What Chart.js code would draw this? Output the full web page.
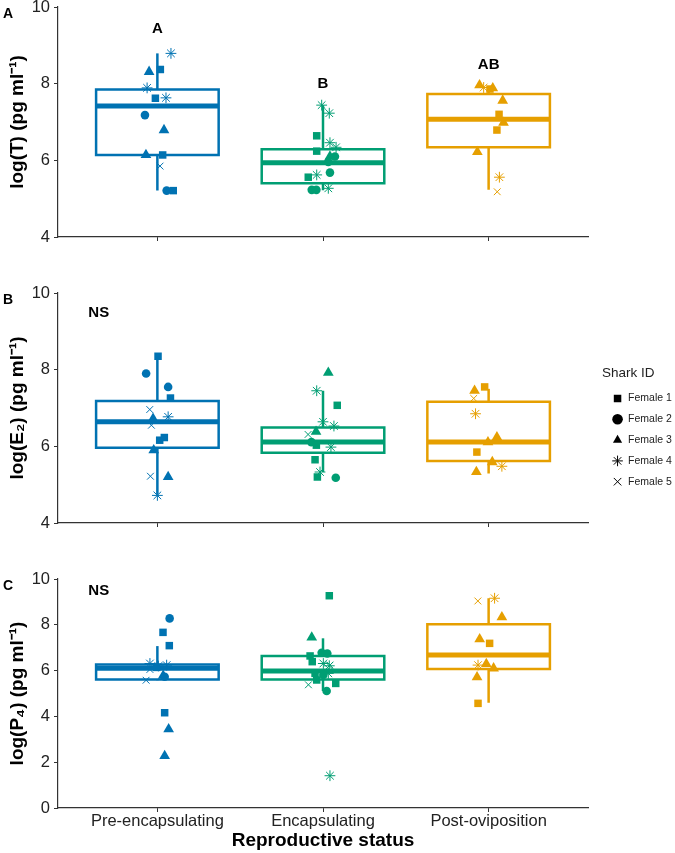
<!DOCTYPE html>
<html>
<head>
<meta charset="utf-8">
<script src="https://cdn.jsdelivr.net/npm/chart.js@4.4.1/dist/chart.umd.min.js"></script>
<style>
  html, body { margin: 0; padding: 0; background: #fff; }
  #wrap { position: relative; width: 675px; height: 853px; overflow: hidden; }
  canvas { position: absolute; left: 0; }
</style>
</head>
<body>
<div id="wrap">
  <canvas id="panelT" width="675" height="245" style="top:0px"></canvas>
  <canvas id="panelE2" width="675" height="285" style="top:286px"></canvas>
  <canvas id="panelP4" width="675" height="281" style="top:572px"></canvas>
</div>
<script>
// categories and groups
const statuses = ['Pre-encapsulating', 'Encapsulating', 'Post-oviposition'];
const sharkIds = ['Female 1', 'Female 2', 'Female 3', 'Female 4', 'Female 5'];

// box summaries per status: [lower whisker, Q1, median, Q3, upper whisker]
const boxT = [[5.21, 6.14, 7.42, 7.85, 8.79], [5.22, 5.40, 5.94, 6.29, 7.44], [5.23, 6.34, 7.07, 7.73, 7.93]];
const boxE2 = [[4.75, 5.96, 6.64, 7.18, 8.35], [5.33, 5.83, 6.11, 6.49, 7.45], [5.29, 5.62, 6.11, 7.16, 7.50]];
const boxP4 = [[5.58, 5.61, 6.10, 6.27, 7.07], [5.11, 5.61, 5.98, 6.64, 7.41], [4.60, 6.07, 6.68, 8.02, 9.16]];

// samples: [status index, shark index, jitter, value]
const ptsT = [
  [0, 0, 0.018, 8.37], [0, 0, -0.012, 7.62], [0, 0, 0.032, 6.14], [0, 0, 0.096, 5.21],
  [0, 1, -0.075, 7.18], [0, 1, 0.056, 5.21],
  [0, 2, -0.05, 8.31], [0, 2, 0.04, 6.79], [0, 2, -0.069, 6.14],
  [0, 3, 0.082, 8.79], [0, 3, -0.062, 7.89], [0, 3, 0.052, 7.63],
  [0, 4, 0.016, 5.85],
  [1, 3, -0.008, 7.44], [1, 3, 0.038, 7.23], [1, 3, 0.042, 6.46], [1, 3, 0.079, 6.34], [1, 3, -0.038, 5.62], [1, 3, 0.032, 5.27],
  [1, 0, -0.038, 6.64], [1, 0, -0.038, 6.24], [1, 0, -0.089, 5.56],
  [1, 1, 0.072, 6.10], [1, 1, 0.032, 5.96], [1, 1, 0.042, 5.68], [1, 1, -0.068, 5.23], [1, 1, -0.04, 5.23],
  [1, 2, 0.042, 6.10],
  [2, 2, -0.055, 7.96], [2, 2, 0.025, 7.88], [2, 2, 0.085, 7.56], [2, 2, 0.09, 6.98], [2, 2, -0.068, 6.22],
  [2, 3, -0.03, 7.90], [2, 3, 0.065, 5.56],
  [2, 0, 0.008, 7.86], [2, 0, 0.063, 7.20], [2, 0, 0.05, 6.79],
  [2, 4, 0.052, 5.18]
];
const ptsE2 = [
  [0, 0, 0.004, 8.35], [0, 0, 0.079, 7.26], [0, 0, 0.014, 6.16], [0, 0, 0.042, 6.23],
  [0, 1, -0.068, 7.90], [0, 1, 0.065, 7.55],
  [0, 2, -0.026, 6.72], [0, 2, -0.022, 5.90], [0, 2, 0.065, 5.20],
  [0, 3, 0.065, 6.77], [0, 3, 0.0, 4.72],
  [0, 4, -0.046, 6.96], [0, 4, -0.036, 6.55], [0, 4, -0.042, 5.22],
  [1, 2, 0.032, 7.92], [1, 2, -0.042, 6.38],
  [1, 3, -0.038, 7.45], [1, 3, 0.0, 6.64], [1, 3, 0.066, 6.53], [1, 3, 0.048, 5.98], [1, 3, -0.018, 5.33],
  [1, 0, 0.086, 7.07], [1, 0, -0.04, 6.03], [1, 0, -0.048, 5.65], [1, 0, -0.034, 5.20],
  [1, 1, -0.07, 6.11], [1, 1, 0.077, 5.18],
  [1, 4, -0.09, 6.31],
  [2, 0, -0.024, 7.55], [2, 0, -0.071, 5.85],
  [2, 2, -0.085, 7.45], [2, 2, 0.05, 6.24], [2, 2, -0.004, 6.11], [2, 2, 0.022, 5.59], [2, 2, -0.074, 5.33],
  [2, 4, -0.09, 7.25],
  [2, 3, -0.079, 6.85], [2, 3, 0.08, 5.48]
];
const ptsP4 = [
  [0, 1, 0.074, 8.28], [0, 1, 0.044, 5.73],
  [0, 0, 0.034, 7.67], [0, 0, 0.072, 7.09], [0, 0, -0.004, 6.14], [0, 0, 0.044, 4.16],
  [0, 3, -0.045, 6.31], [0, 3, 0.006, 6.20], [0, 3, 0.056, 6.24],
  [0, 2, 0.035, 5.78], [0, 2, 0.068, 3.44], [0, 2, 0.044, 2.27],
  [0, 4, -0.068, 5.58], [0, 4, -0.045, 6.05],
  [1, 0, 0.038, 9.27], [1, 0, -0.078, 6.64], [1, 0, -0.065, 6.39], [1, 0, -0.048, 5.88], [1, 0, -0.038, 5.59], [1, 0, 0.077, 5.44],
  [1, 2, -0.068, 7.45],
  [1, 1, -0.008, 6.78], [1, 1, 0.026, 6.75], [1, 1, 0.002, 5.81], [1, 1, 0.022, 5.11],
  [1, 3, 0.002, 6.31], [1, 3, 0.038, 6.21], [1, 3, 0.032, 5.88], [1, 3, 0.042, 1.41],
  [1, 4, -0.088, 5.38], [1, 4, 0.042, 6.24],
  [2, 4, -0.065, 9.04],
  [2, 3, 0.036, 9.16], [2, 3, -0.064, 6.24],
  [2, 2, 0.08, 8.33], [2, 2, -0.054, 7.37], [2, 2, -0.014, 6.29], [2, 2, 0.03, 6.10], [2, 2, -0.07, 5.71],
  [2, 0, 0.006, 7.19], [2, 0, -0.064, 4.57]
];

// significance labels: [text, x value, y value]
const notesT = [['A', 1, 9.43], ['B', 2, 7.99], ['AB', 3, 8.49]];
const notesE2 = [['NS', 0.646, 9.49]];
const notesP4 = [['NS', 0.646, 9.48]];

// styling
const statusColors = ['#0072B2', '#009E73', '#E69F00'];
const sharkShapes = ['rect', 'circle', 'triangle', 'star', 'crossRot'];
const sharkSizes = [5.3, 4.3, 6.2, 5.4, 4.8];
const sharkLines = [0, 0, 0, 1, 1];
const BOX_HALF = 0.37;
const FONT = "'Liberation Sans', Arial, Helvetica, sans-serif";

Chart.defaults.font.family = FONT;
Chart.defaults.color = '#222';

// letters over the groups plus the panel tag
const notesPlugin = {
  id: 'notes',
  afterDatasetsDraw(chart, args, opts) {
    const { ctx, chartArea, scales: { x, y } } = chart;
    ctx.save();
    ctx.fillStyle = '#000';
    ctx.textBaseline = 'middle';
    ctx.textAlign = 'center';
    ctx.font = 'bold 15px ' + FONT;
    opts.notes.forEach(([t, vx, vy]) => ctx.fillText(t, x.getPixelForValue(vx), y.getPixelForValue(vy)));
    ctx.textAlign = 'left';
    ctx.font = 'bold 14px ' + FONT;
    ctx.fillText(opts.tag, 3, chartArea.top + 7.5);
    ctx.restore();
  }
};

function makePanel(canvasId, cfg) {
  const { box, pts, yMin, yLabel, notes, tag, legend, showX, xHeight } = cfg;
  const datasets = [];

  // jittered samples, one dataset per shark
  sharkIds.forEach((name, s) => {
    const mine = pts.filter(p => p[1] === s);
    datasets.push({
      label: name,
      data: mine.map(p => ({ x: p[0] + 1 + p[2], y: p[3] })),
      pointStyle: sharkShapes[s],
      pointRadius: sharkSizes[s],
      pointBackgroundColor: mine.map(p => statusColors[p[0]]),
      pointBorderColor: mine.map(p => statusColors[p[0]]),
      pointBorderWidth: sharkLines[s],
      showLine: false,
      order: 0
    });
  });

  // boxplots drawn as line segments
  box.forEach((b, i) => {
    const cx = i + 1, c = statusColors[i];
    const [lo, q1, med, q3, hi] = b;
    const seg = (data, width, cap) => ({
      data, showLine: true, borderColor: c, borderWidth: width, pointRadius: 0,
      borderCapStyle: cap || 'butt', borderJoinStyle: 'miter', fill: false, order: 1
    });
    datasets.push(seg([{ x: cx - BOX_HALF, y: q1 }, { x: cx + BOX_HALF, y: q1 }, { x: cx + BOX_HALF, y: q3 },
      { x: cx - BOX_HALF, y: q3 }, { x: cx - BOX_HALF, y: q1 }], 2.5, 'square'));
    datasets.push(seg([{ x: cx, y: q3 }, { x: cx, y: hi }], 2.5));
    datasets.push(seg([{ x: cx, y: q1 }, { x: cx, y: lo }], 2.5));
    datasets.push(seg([{ x: cx - BOX_HALF, y: med }, { x: cx + BOX_HALF, y: med }], 5));
  });

  const scales = {
    x: {
      type: 'linear', min: 0.4, max: 3.6,
      afterBuildTicks: s => { s.ticks = statuses.map((_, i) => ({ value: i + 1 })); },
      afterFit: s => { s.height = xHeight; s.paddingLeft = 0; s.paddingRight = 0; },
      grid: { display: true, drawOnChartArea: false, drawTicks: true, tickLength: 4, color: '#333', lineWidth: 1 },
      border: { display: true, color: '#333', width: 1.2 },
      ticks: { display: showX, callback: v => statuses[Math.round(v) - 1], font: { size: 16.5 }, color: '#222', padding: 0, maxRotation: 0, autoSkip: false },
      title: { display: showX, text: 'Reproductive status', font: { size: 19, weight: 'bold' }, color: '#000', padding: { top: 0, bottom: 1 } }
    },
    y: {
      type: 'linear', min: yMin, max: 10,
      afterFit: s => { s.width = 58; s.paddingTop = 0; s.paddingBottom = 0; },
      ticks: { stepSize: 2, font: { size: 16.5 }, color: '#222', padding: 4 },
      grid: { display: true, drawOnChartArea: false, drawTicks: true, tickLength: 4, color: '#333', lineWidth: 1 },
      border: { display: true, color: '#333', width: 1.2 },
      title: { display: true, text: yLabel, font: { size: 19, weight: 'bold' }, color: '#000', padding: { top: 6, bottom: 0 } }
    }
  };
  if (legend) {
    // empty strip between the panel and the legend
    scales.gap = {
      type: 'linear', position: 'right', display: true,
      grid: { display: false }, ticks: { display: false }, border: { display: false },
      afterFit: s => { s.width = 14; }
    };
  }

  return new Chart(document.getElementById(canvasId), {
    type: 'scatter',
    data: { datasets },
    options: {
      responsive: false,
      animation: false,
      events: [],
      layout: { padding: { top: 7, left: 0, bottom: 0, right: legend ? 0 : 87 } },
      plugins: {
        tooltip: { enabled: false },
        notes: { notes, tag },
        legend: legend ? {
          display: true, position: 'right', align: 'center', maxWidth: 73,
          title: { display: true, text: 'Shark ID', position: 'start', color: '#222', font: { size: 13.5 }, padding: 0 },
          labels: {
            usePointStyle: true, boxHeight: 7.5, padding: 10.3, color: '#222', font: { size: 10.5 },
            generateLabels: () => sharkIds.map((name, s) => ({
              text: name, fillStyle: '#000', strokeStyle: '#000', lineWidth: sharkLines[s],
              pointStyle: sharkShapes[s], hidden: false, datasetIndex: s, fontColor: '#222'
            }))
          }
        } : { display: false }
      },
      scales
    },
    plugins: [notesPlugin]
  });
}

makePanel('panelT', { box: boxT, pts: ptsT, yMin: 4, yLabel: 'log(T) (pg ml⁻¹)', notes: notesT, tag: 'A', legend: false, showX: false, xHeight: 8 });
makePanel('panelE2', { box: boxE2, pts: ptsE2, yMin: 4, yLabel: 'log(E₂) (pg ml⁻¹)', notes: notesE2, tag: 'B', legend: true, showX: false, xHeight: 48 });
makePanel('panelP4', { box: boxP4, pts: ptsP4, yMin: 0, yLabel: 'log(P₄) (pg ml⁻¹)', notes: notesP4, tag: 'C', legend: false, showX: true, xHeight: 45 });
</script>
</body>
</html>
